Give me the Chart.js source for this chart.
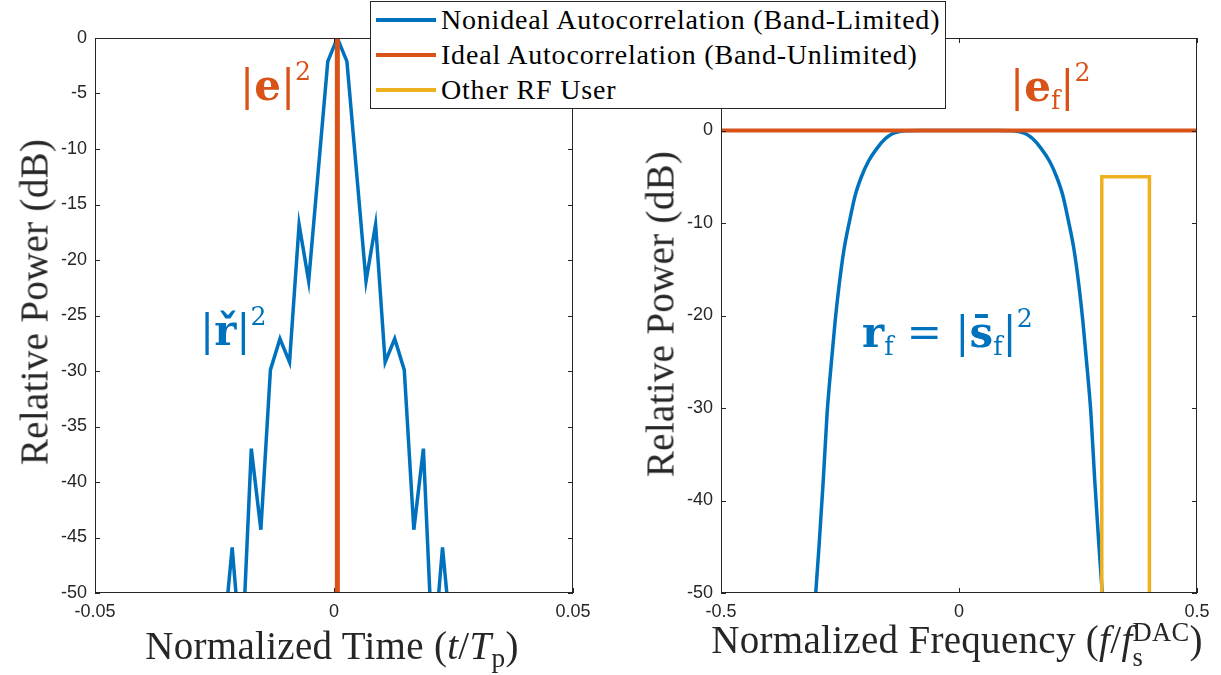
<!DOCTYPE html>
<html>
<head>
<meta charset="utf-8">
<script src="https://cdn.jsdelivr.net/npm/chart.js@4.4.1/dist/chart.umd.min.js"></script>
<style>
  body { margin: 0; background: #fff; }
  #wrap { position: relative; width: 1221px; height: 675px; overflow: hidden; font-family: "Liberation Serif"; color: #262626; }
  canvas { position: absolute; top: 0; }
  #leftChart { left: 0; }
  #rightChart { left: 620px; }
  .ttl { position: absolute; font-family: "Liberation Serif"; font-size: 39px; letter-spacing: 0.3px; white-space: nowrap; line-height: 1; color: #262626; }
  .ytl { transform: translate(-50%, -50%) rotate(-90deg); }
  .xtl { transform: translate(-50%, -50%); }
  .ttl sub { font-size: 0.7em; vertical-align: -0.3em; line-height: 0; }
  .stack { display: inline-block; vertical-align: -0.5em; font-size: 0.68em; line-height: 0.95; text-align: left; }
  .stack span { display: block; }
  .math { position: absolute; font-family: "DejaVu Serif"; font-size: 42px; line-height: 1; white-space: nowrap; }
  .math sup { font-size: 0.6em; vertical-align: 0.8em; line-height: 0; }
  .math sub { font-size: 0.6em; vertical-align: -0.3em; line-height: 0; }
  #legend { position: absolute; left: 370px; top: 1px; width: 574px; height: 106px; border: 1px solid #262626; background: #fff; }
  .row { position: absolute; left: 5px; height: 34px; display: flex; align-items: center; font-family: "Liberation Serif"; font-size: 28px; letter-spacing: 0.8px; white-space: nowrap; color: #000; }
  .swatch { width: 60px; height: 4px; margin-right: 5px; }
</style>
</head>
<body>
<div id="wrap">
  <canvas id="leftChart" width="610" height="675"></canvas>
  <canvas id="rightChart" width="601" height="675"></canvas>

  <div class="ttl ytl" style="left:34px; top:302px;">Relative Power (dB)</div>
  <div class="ttl ytl" style="left:660px; top:314px;">Relative Power (dB)</div>
  <div class="ttl xtl" style="left:332px; top:645px;">Normalized Time (<i>t</i>/<i>T</i><sub>p</sub>)</div>
  <div class="ttl xtl" style="left:957px; top:645px;">Normalized Frequency (<i>f</i>/<i>f</i><span class="stack"><span>DAC</span><span>s</span></span>)</div>

  <div class="math" style="left:240px; top:65px; color:#D95319;">|<b>e</b>|<sup>2</sup></div>
  <div class="math" style="left:200px; top:310px; color:#0072BD;">|<b>ř</b>|<sup>2</sup></div>
  <div class="math" style="left:1010px; top:66px; color:#D95319;">|<b>e</b><sub>f</sub>|<sup>2</sup></div>
  <div class="math" style="left:862px; top:312px; color:#0072BD;"><b>r</b><sub>f</sub> = |<b>s̄</b><sub>f</sub>|<sup>2</sup></div>

  <div id="legend">
    <div class="row" style="top:1px;"><div class="swatch" style="background:#0072BD"></div>Nonideal Autocorrelation (Band-Limited)</div>
    <div class="row" style="top:36px;"><div class="swatch" style="background:#D95319"></div>Ideal Autocorrelation (Band-Unlimited)</div>
    <div class="row" style="top:71px;"><div class="swatch" style="background:#EDB120"></div>Other RF User</div>
  </div>
</div>

<script>
// left panel: autocorrelation vs normalized time
const timeT = [-0.0233, -0.0213, -0.0193, -0.0173, -0.0153, -0.0133, -0.0113, -0.0093, -0.0073, -0.0053, -0.0033, -0.0013, 0.0007,
  0.0027, 0.0047, 0.0067, 0.0087, 0.0107, 0.0127, 0.0147, 0.0167, 0.0187, 0.0207, 0.0227, 0.0247];
const nonidealTimeDb = [-55, -45.9, -56.3, -37.0, -44.3, -29.9, -27.1, -29.2, -16.8, -21.9, -12.0, -2.1, 0,
  -2.1, -12.0, -21.9, -16.8, -29.2, -27.1, -29.9, -44.3, -37.0, -56.3, -45.9, -55];
const idealT = [0.0007, 0.0007];
const idealTimeDb = [-80, 0];

// right panel: spectra vs normalized frequency
const freqF = [-0.301, -0.294, -0.285, -0.277, -0.268, -0.26, -0.252, -0.242, -0.23, -0.218, -0.205, -0.19, -0.172, -0.155, -0.14, -0.125, -0.11, -0.08, 0,
  0.08, 0.11, 0.125, 0.14, 0.155, 0.172, 0.19, 0.205, 0.218, 0.23, 0.242, 0.252, 0.26, 0.268, 0.277, 0.285, 0.294, 0.301];
const nonidealFreqDb = [-50, -44.9, -37.7, -30.5, -25.0, -20.5, -16.8, -13.0, -9.8, -7.0, -5.0, -3.3, -1.9, -0.9, -0.35, -0.1, -0.02, 0, 0,
  0, -0.02, -0.1, -0.35, -0.9, -1.9, -3.3, -5.0, -7.0, -9.8, -13.0, -16.8, -20.5, -25.0, -30.5, -37.7, -44.9, -50];
const idealF = [-0.5, 0.5];
const idealFreqDb = [0, 0];
const otherF = [0.3, 0.3, 0.4, 0.4];
const otherDb = [-80, -5, -5, -80];

const xTicksT = [-0.05, 0, 0.05];
const yTicksT = [-50, -45, -40, -35, -30, -25, -20, -15, -10, -5, 0];
const xTicksF = [-0.5, 0, 0.5];
const yTicksF = [-50, -40, -30, -20, -10, 0, 10];

const BLUE = '#0072BD', ORANGE = '#D95319', YELLOW = '#EDB120', AXIS = '#262626';

function pts(xs, ys) {
  return xs.map((x, i) => ({ x: x, y: ys[i] }));
}

// matlab style box with inward ticks
const boxTicks = {
  id: 'boxTicks',
  afterDatasetsDraw(chart) {
    const { ctx, chartArea: a, scales } = chart;
    const L = 5;
    ctx.save();
    ctx.strokeStyle = AXIS;
    ctx.lineWidth = 1;
    ctx.strokeRect(Math.round(a.left) + 0.5, Math.round(a.top) + 0.5, Math.round(a.width) - 1, Math.round(a.height) - 1);
    ctx.beginPath();
    scales.x.ticks.forEach(t => {
      const px = Math.round(scales.x.getPixelForValue(t.value)) + 0.5;
      ctx.moveTo(px, a.bottom); ctx.lineTo(px, a.bottom - L);
      ctx.moveTo(px, a.top); ctx.lineTo(px, a.top + L);
    });
    scales.y.ticks.forEach(t => {
      const py = Math.round(scales.y.getPixelForValue(t.value)) + 0.5;
      ctx.moveTo(a.left, py); ctx.lineTo(a.left + L, py);
      ctx.moveTo(a.right, py); ctx.lineTo(a.right - L, py);
    });
    ctx.stroke();
    ctx.restore();
  }
};

function axis(min, max, ticks, fit, pad) {
  return {
    type: 'linear', min: min, max: max,
    afterBuildTicks: s => { s.ticks = ticks.map(v => ({ value: v })); },
    afterFit: fit,
    grid: { display: false, drawTicks: false },
    border: { display: false },
    ticks: { font: { family: 'Liberation Sans', size: 18 }, color: AXIS, padding: pad, maxRotation: 0, autoSkip: false }
  };
}

const common = {
  responsive: false,
  animation: false,
  events: [],
  plugins: { legend: { display: false }, tooltip: { enabled: false } },
  elements: { point: { radius: 0 }, line: { tension: 0 } }
};

new Chart(document.getElementById('leftChart'), {
  type: 'line',
  data: {
    datasets: [
      { data: pts(timeT, nonidealTimeDb), borderColor: BLUE, borderWidth: 3.5, order: 2, clip: 0 },
      { data: pts(idealT, idealTimeDb), borderColor: ORANGE, borderWidth: 5, order: 1, clip: 0 }
    ]
  },
  options: Object.assign({}, common, {
    layout: { padding: { top: 38, right: 37, left: 0, bottom: 0 } },
    scales: {
      x: axis(-0.05, 0.05, xTicksT, s => { s.height = 82; }, 8),
      y: axis(-50, 0, yTicksT, s => { s.width = 95; }, 8)
    }
  }),
  plugins: [boxTicks]
});

new Chart(document.getElementById('rightChart'), {
  type: 'line',
  data: {
    datasets: [
      { data: pts(freqF, nonidealFreqDb), borderColor: BLUE, borderWidth: 3.5, cubicInterpolationMode: 'monotone', order: 3, clip: 0 },
      { data: pts(idealF, idealFreqDb), borderColor: ORANGE, borderWidth: 4, order: 2, clip: 0 },
      { data: pts(otherF, otherDb), borderColor: YELLOW, borderWidth: 3.5, order: 1, clip: 0 }
    ]
  },
  options: Object.assign({}, common, {
    layout: { padding: { top: 38, right: 24, left: 0, bottom: 0 } },
    scales: {
      x: axis(-0.5, 0.5, xTicksF, s => { s.height = 82; }, 8),
      y: axis(-50, 10, yTicksF, s => { s.width = 101; }, 8)
    }
  }),
  plugins: [boxTicks]
});
</script>
</body>
</html>
